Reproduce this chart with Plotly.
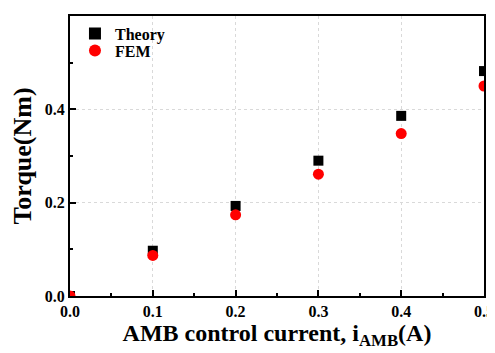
import plotly.graph_objects as go

current = [0.0, 0.1, 0.2, 0.3, 0.4, 0.5]
theory = [0.0, 0.097, 0.193, 0.290, 0.386, 0.482]
fem = [0.0, 0.087, 0.174, 0.261, 0.348, 0.450]

FONT = "Liberation Serif"

fig = go.Figure()
fig.add_trace(go.Scatter(x=current, y=theory, mode="markers", name="Theory", legend="legend",
                         marker=dict(symbol="square", size=10, color="black")))
fig.add_trace(go.Scatter(x=current, y=fem, mode="markers", name="FEM", legend="legend2",
                         marker=dict(symbol="circle", size=11, color="red")))

axis_common = dict(
    showline=True, linecolor="black", linewidth=2, mirror=True,
    ticks="inside", ticklen=6, tickwidth=2, tickcolor="black",
    showgrid=True, gridcolor="#d9d9d9", griddash="dot", gridwidth=1,
    zeroline=False, automargin=False,
    tickfont=dict(family=FONT, size=16, color="black", weight="bold"),
    minor=dict(ticks="inside", ticklen=3, tickwidth=2, tickcolor="black", showgrid=False),
)

legend_common = dict(xanchor="left", yanchor="top", bgcolor="rgba(0,0,0,0)",
                     font=dict(family=FONT, size=16, weight="bold"), itemsizing="constant")

# page body has an 8px default margin; figure is sized to fit the 495x353 window
fig.update_layout(
    width=487, height=345,
    margin=dict(l=62, r=11, t=8, b=57),
    paper_bgcolor="white", plot_bgcolor="white",
    font=dict(family=FONT, color="black"),
    xaxis=dict(range=[0, 0.5], dtick=0.1, tickformat=".1f",
               title=dict(text="AMB control current, i<sub>AMB</sub>(A)",
                          font=dict(family=FONT, size=24, weight="bold"), standoff=4),
               **axis_common),
    yaxis=dict(range=[0, 0.6], dtick=0.2, tickformat=".1f",
               title=dict(text="Torque(Nm)", font=dict(family=FONT, size=26, weight="bold"), standoff=10),
               **axis_common),
    legend=dict(x=0.012, y=0.998, **legend_common),
    legend2=dict(x=0.012, y=0.937, **legend_common),
    showlegend=True,
)
fig.update_xaxes(minor=dict(dtick=0.05))
fig.update_yaxes(minor=dict(dtick=0.1))

fig.write_html("out.html")
